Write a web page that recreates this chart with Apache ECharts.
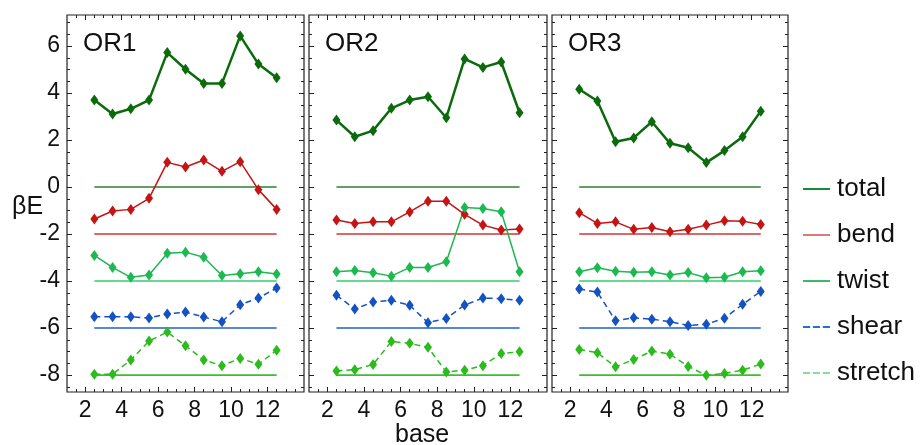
<!DOCTYPE html>
<html lang="en">
<head>
<meta charset="UTF-8">
<title>βE per base</title>
<script src="https://cdn.jsdelivr.net/npm/echarts@6/dist/echarts.min.js"></script>
<style>
  html, body { margin: 0; padding: 0; background: #fff; }
  #chart { width: 923px; height: 445px; }
</style>
</head>
<body>
<div id="chart"></div>
<script>
// base steps (x position of each point)
var base = [2.5, 3.5, 4.5, 5.5, 6.5, 7.5, 8.5, 9.5, 10.5, 11.5, 12.5];
var xTickLabels = [2, 4, 6, 8, 10, 12];
var yTickLabels = [-8, -6, -4, -2, 0, 2, 4, 6];
var panels = ['OR1', 'OR2', 'OR3'];
var components = ['total', 'bend', 'twist', 'shear', 'stretch'];
// each component is drawn shifted down, its zero is this line
var offsets = [0, -2, -4, -6, -8];

// values as plotted (already shifted)
var or1Total   = [3.70, 3.11, 3.33, 3.70, 5.72, 5.01, 4.41, 4.41, 6.43, 5.23, 4.65];
var or1Bend    = [-1.36, -1.02, -0.95, -0.48, 1.05, 0.85, 1.15, 0.67, 1.08, -0.11, -0.95];
var or1Twist   = [-2.91, -3.42, -3.84, -3.74, -2.82, -2.77, -2.99, -3.76, -3.69, -3.60, -3.70];
var or1Shear   = [-5.52, -5.52, -5.52, -5.57, -5.40, -5.32, -5.53, -5.73, -5.01, -4.72, -4.30];
var or1Stretch = [-7.96, -7.96, -7.36, -6.55, -6.17, -6.75, -7.36, -7.60, -7.29, -7.54, -6.94];

var or2Total   = [2.85, 2.14, 2.40, 3.35, 3.70, 3.84, 2.95, 5.45, 5.09, 5.32, 3.16];
var or2Bend    = [-1.40, -1.55, -1.48, -1.48, -1.06, -0.60, -0.60, -1.16, -1.62, -1.83, -1.79];
var or2Twist   = [-3.60, -3.55, -3.65, -3.79, -3.42, -3.42, -3.18, -0.87, -0.91, -1.05, -3.60];
var or2Shear   = [-4.60, -5.19, -4.89, -4.82, -5.03, -5.77, -5.59, -5.02, -4.72, -4.75, -4.82];
var or2Stretch = [-7.83, -7.77, -7.55, -6.57, -6.65, -6.82, -7.87, -7.79, -7.60, -7.08, -7.01];

var or3Total   = [4.16, 3.66, 1.93, 2.09, 2.78, 1.86, 1.67, 1.04, 1.55, 2.14, 3.23];
var or3Bend    = [-1.09, -1.55, -1.48, -1.80, -1.72, -1.90, -1.80, -1.62, -1.43, -1.45, -1.59];
var or3Twist   = [-3.60, -3.43, -3.58, -3.63, -3.60, -3.74, -3.64, -3.86, -3.84, -3.60, -3.56];
var or3Shear   = [-4.34, -4.47, -5.69, -5.56, -5.62, -5.73, -5.89, -5.84, -5.58, -4.99, -4.44];
var or3Stretch = [-6.91, -7.05, -7.65, -7.34, -6.98, -7.11, -7.63, -8.01, -7.93, -7.79, -7.53];

var panelData = [
  [or1Total, or1Bend, or1Twist, or1Shear, or1Stretch],
  [or2Total, or2Bend, or2Twist, or2Shear, or2Stretch],
  [or3Total, or3Bend, or3Twist, or3Shear, or3Stretch]
];

var font = '"Liberation Sans", Arial, sans-serif';
var lineColors = ['#0b6a0b', '#c41414', '#1cb850', '#1452c2', '#2cbb1c'];
var baseColors = ['#2f7f2f', '#d03434', '#35cc6c', '#1c60d0', '#3cbf2c'];
var legendColors = ['#138a3f', '#dc7a7a', '#38bb6a', '#2a6fcf', '#86dd9c'];
var lineWidths = [2.5, 1.5, 1.5, 1.5, 1.5];
var lineTypes = ['solid', 'solid', 'solid', [6, 4], [6, 4]];

var gridLeft = [67, 309, 552];
var gridWidth = [237, 238, 236];

// tick positions every 0.5
var xMinor = [];
for (var v = 1.5; v < 14; v += 0.5) xMinor.push(v);
var yMinor = [];
for (var w = -8.5; w <= 7; w += 0.5) yMinor.push(w);

var chart = echarts.init(document.getElementById('chart'));

var grids = [], xAxes = [], yAxes = [], series = [], graphics = [];

function makeX(g, pos, ticks, len, labels) {
  return {
    type: 'value', gridIndex: g, position: pos, min: 1, max: 14,
    axisLine: { show: false, onZero: false },
    splitLine: { show: false },
    axisTick: { show: true, inside: true, length: len, customValues: ticks, lineStyle: { color: '#222' } },
    axisLabel: labels ? { show: true, customValues: xTickLabels, fontSize: 23, color: '#111', margin: 7, fontFamily: font } : { show: false }
  };
}
function makeY(g, pos, ticks, len, labels) {
  return {
    type: 'value', gridIndex: g, position: pos, min: -8.72, max: 7.32,
    axisLine: { show: false, onZero: false },
    splitLine: { show: false },
    axisTick: { show: true, inside: true, length: len, customValues: ticks, lineStyle: { color: '#222' } },
    axisLabel: labels ? { show: true, customValues: yTickLabels, fontSize: 23, color: '#111', margin: 7, fontFamily: font } : { show: false }
  };
}

for (var g = 0; g < 3; g++) {
  grids.push({
    left: gridLeft[g], top: 15, width: gridWidth[g], height: 377,
    show: true, borderColor: '#222', borderWidth: 1.2, backgroundColor: 'transparent'
  });
  xAxes.push(makeX(g, 'bottom', xTickLabels, 5, true));
  xAxes.push(makeX(g, 'bottom', xMinor, 3, false));
  xAxes.push(makeX(g, 'top', xTickLabels, 5, false));
  xAxes.push(makeX(g, 'top', xMinor, 3, false));
  yAxes.push(makeY(g, 'left', yTickLabels, 5, g === 0));
  yAxes.push(makeY(g, 'left', yMinor, 3, false));
  yAxes.push(makeY(g, 'right', yTickLabels, 5, false));
  yAxes.push(makeY(g, 'right', yMinor, 3, false));

  // zero lines for each component
  for (var c = 0; c < components.length; c++) {
    series.push({
      name: components[c] + ' zero',
      type: 'line', xAxisIndex: g * 4, yAxisIndex: g * 4,
      data: [[base[0], offsets[c]], [base[base.length - 1], offsets[c]]],
      symbol: 'none', silent: true, z: 1,
      lineStyle: { color: baseColors[c], width: 1.6 }
    });
  }
  for (var k = 0; k < components.length; k++) {
    var vals = panelData[g][k];
    series.push({
      name: components[k],
      type: 'line', xAxisIndex: g * 4, yAxisIndex: g * 4,
      data: base.map(function (x, i) { return [x, vals[i]]; }),
      symbol: 'diamond', symbolSize: [8, 11], z: 3,
      itemStyle: { color: lineColors[k] },
      lineStyle: { color: lineColors[k], width: lineWidths[k], type: lineTypes[k] }
    });
  }

  graphics.push({
    type: 'text', left: gridLeft[g] + 16, top: 31,
    style: { text: panels[g], fill: '#111', font: '26px ' + font }
  });
}

graphics.push({
  type: 'text', left: 12, top: 195,
  style: { text: 'βE', fill: '#111', font: '25px ' + font }
});
graphics.push({
  type: 'text', left: 395, top: 423,
  style: { text: 'base', fill: '#111', font: '25px ' + font }
});

var dashIcon = 'path://M0,0h8v2h-8z M11,0h8v2h-8z M22,0h8v2h-8z';
var legendIcons = ['rect', 'rect', 'rect', dashIcon, dashIcon];

var option = {
  animation: false,
  backgroundColor: '#fff',
  grid: grids,
  xAxis: xAxes,
  yAxis: yAxes,
  series: series,
  graphic: graphics,
  legend: {
    orient: 'vertical',
    left: 803, top: 176,
    padding: 0,
    itemWidth: 27, itemHeight: 2, itemGap: 20,
    textStyle: { fontSize: 26, color: '#111', fontFamily: font, lineHeight: 26, padding: [0, 0, 0, 2] },
    data: components.map(function (name, i) {
      return { name: name, icon: legendIcons[i], itemStyle: { color: legendColors[i] } };
    })
  }
};

chart.setOption(option);
</script>
</body>
</html>
